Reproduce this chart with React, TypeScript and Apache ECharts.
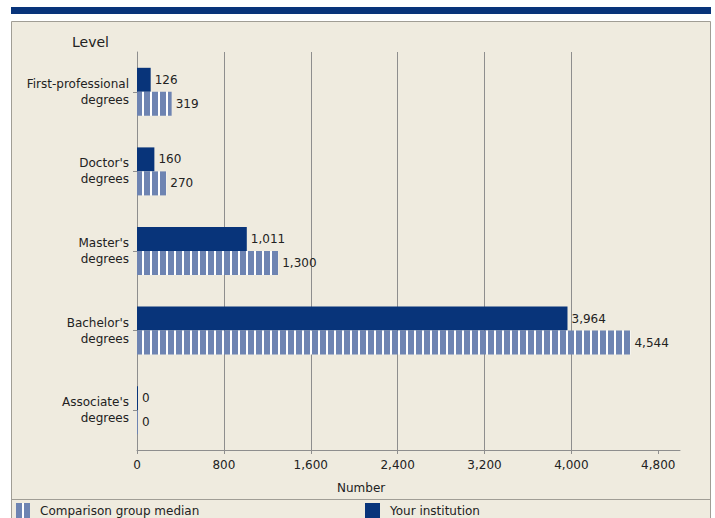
import React, { useEffect, useRef } from 'react';
import * as echarts from 'echarts';

const categories = [
  'First-professional\ndegrees',
  "Doctor's\ndegrees",
  "Master's\ndegrees",
  "Bachelor's\ndegrees",
  "Associate's\ndegrees",
];
const yourInstitution = [126, 160, 1011, 3964, 0];
const comparisonMedian = [319, 270, 1300, 4544, 0];
const xTicks = [0, 800, 1600, 2400, 3200, 4000, 4800];
const seriesNames = ['Comparison group median', 'Your institution'];

const NAVY = '#08347a';
const LIGHT = '#6e84b2';
const GRID = '#8e8e8e';
const FONT = '"DejaVu Sans", Verdana, sans-serif';

function makeStripe(): any {
  const c = document.createElement('canvas');
  c.width = 8;
  c.height = 4;
  const ctx = c.getContext('2d')!;
  ctx.fillStyle = '#ffffff';
  ctx.fillRect(0, 0, 8, 4);
  ctx.fillStyle = LIGHT;
  ctx.fillRect(0, 0, 6, 4);
  return { image: c, repeat: 'repeat' };
}

const fmt = (v: number) => Number(v).toLocaleString('en-US');

export default function App() {
  const ref = useRef<HTMLDivElement>(null);
  useEffect(() => {
    if (!ref.current) return;
    const chart = echarts.init(ref.current, undefined, { renderer: 'svg' });
    const stripe = makeStripe();
    const labelCommon = {
      show: true,
      position: 'right',
      distance: 4,
      color: '#222',
      fontSize: 12,
      fontFamily: FONT,
      formatter: (p: any) => fmt(p.value),
    };
    const legendCommon = {
      top: 503,
      padding: 0,
      itemHeight: 15,
      icon: 'rect',
      itemStyle: { borderWidth: 0 },
      textStyle: { color: '#222', fontSize: 12, fontFamily: FONT, padding: [0, 0, 0, 5] },
      selectedMode: false,
    };
    chart.setOption({
      animation: false,
      backgroundColor: '#ffffff',
      textStyle: { fontFamily: FONT },
      graphic: [
        { type: 'rect', z: -10, shape: { x: 11, y: 7, width: 700, height: 7 }, style: { fill: NAVY } },
        {
          type: 'rect',
          z: -10,
          shape: { x: 11.5, y: 21.5, width: 699, height: 510 },
          style: { fill: '#efebdf', stroke: '#a09d95', lineWidth: 1 },
        },
        {
          type: 'line',
          z: -9,
          shape: { x1: 11, y1: 499.5, x2: 710, y2: 499.5 },
          style: { stroke: '#a09d95', lineWidth: 1 },
        },
        {
          type: 'text',
          left: 72,
          top: 35,
          style: { text: 'Level', fontSize: 14, fontFamily: FONT, fill: '#222' },
        },
        {
          type: 'text',
          left: 337,
          top: 482,
          style: { text: 'Number', fontSize: 12, fontFamily: FONT, fill: '#222' },
        },
      ],
      grid: { left: 137, top: 52, width: 543, height: 398, containLabel: false },
      xAxis: {
        type: 'value',
        min: 0,
        max: 5000,
        interval: 800,
        axisLine: { show: true, lineStyle: { color: GRID, width: 1 } },
        axisTick: { show: true, length: 4, lineStyle: { color: GRID }, customValues: xTicks },
        axisLabel: {
          customValues: xTicks,
          formatter: (v: number) => fmt(v),
          color: '#222',
          fontSize: 12,
          fontFamily: FONT,
          margin: 9,
        },
        splitLine: { show: true, showMinLine: false, showMaxLine: false, lineStyle: { color: GRID } },
      },
      yAxis: {
        type: 'category',
        inverse: true,
        data: categories,
        axisLine: { show: true, lineStyle: { color: GRID } },
        axisTick: { show: true, alignWithLabel: true, length: 4, lineStyle: { color: GRID } },
        axisLabel: { color: '#222', fontSize: 12, lineHeight: 16, margin: 8, fontFamily: FONT, padding: [2, 0, 0, 0] },
        splitLine: { show: false },
      },
      legend: [
        { ...legendCommon, data: [seriesNames[0]], left: 16, itemWidth: 14 },
        { ...legendCommon, data: [seriesNames[1]], left: 365, itemWidth: 15 },
      ],
      series: [
        {
          name: seriesNames[1],
          type: 'bar',
          data: yourInstitution,
          barWidth: 24,
          barGap: '0%',
          barMinHeight: 1,
          itemStyle: { color: NAVY },
          label: labelCommon,
        },
        {
          name: seriesNames[0],
          type: 'bar',
          data: comparisonMedian,
          barWidth: 24,
          barGap: '0%',
          barMinHeight: 1,
          itemStyle: { color: stripe },
          label: labelCommon,
        },
      ],
    });
    return () => chart.dispose();
  }, []);
  return (
    <div
      ref={ref}
      style={{ position: 'absolute', left: 0, top: 0, width: 715, height: 518 }}
    />
  );
}
